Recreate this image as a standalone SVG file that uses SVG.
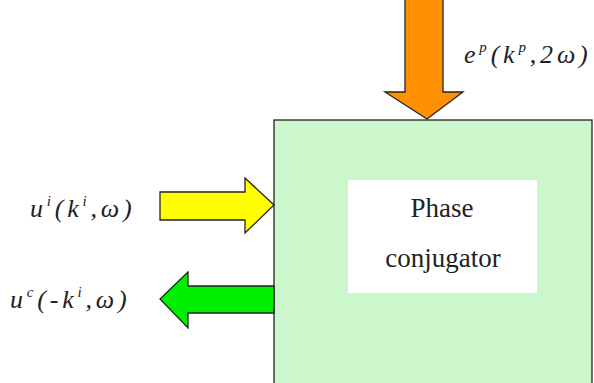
<svg xmlns="http://www.w3.org/2000/svg" width="594" height="383" viewBox="0 0 594 383">
<style>
.lbl{font-family:"Liberation Serif","Times New Roman",serif;font-style:italic;font-size:26px;letter-spacing:3.8px;fill:#222}
.sup{font-size:15px}
.in{font-family:"Liberation Serif","Times New Roman",serif;font-size:27px;fill:#222;text-anchor:middle}
.arr{stroke:#222;stroke-width:1.3;stroke-linejoin:miter}
</style>
<rect width="594" height="383" fill="#fff"/>
<g id="conjugator">
<rect x="274" y="120" width="318" height="270" fill="#ccf7cc" stroke="#222" stroke-width="1.3"/>
<rect x="348" y="180" width="189" height="113" fill="#fff"/>
<text class="in" x="442" y="217">Phase</text>
<text class="in" x="443" y="267">conjugator</text>
</g>
<g id="connectors">
<path class="arr" fill="#ff9000" d="M405,-2 L443,-2 L443,92 L463,92 L427,119 L385,92 L405,92 Z"/>
<path class="arr" fill="#ffff00" d="M160,192 L245,192 L245,178 L274,205 L245,233 L245,220 L160,220 Z"/>
<path class="arr" fill="#00ee00" d="M274,286 L188,286 L188,272 L160,299 L188,328 L188,313 L274,313 Z"/>
</g>
<g id="labels">
<text class="lbl" x="464" y="63">e<tspan class="sup" dy="-11">p</tspan><tspan dy="11">(k</tspan><tspan class="sup" dy="-11">p</tspan><tspan dy="11">,2ω)</tspan></text>
<text class="lbl" x="30" y="217">u<tspan class="sup" dy="-11">i</tspan><tspan dy="11">(k</tspan><tspan class="sup" dy="-11">i</tspan><tspan dy="11">,ω)</tspan></text>
<text class="lbl" x="10" y="308">u<tspan class="sup" dy="-11">c</tspan><tspan dy="11">(-k</tspan><tspan class="sup" dy="-11">i</tspan><tspan dy="11">,ω)</tspan></text>
</g>
</svg>
